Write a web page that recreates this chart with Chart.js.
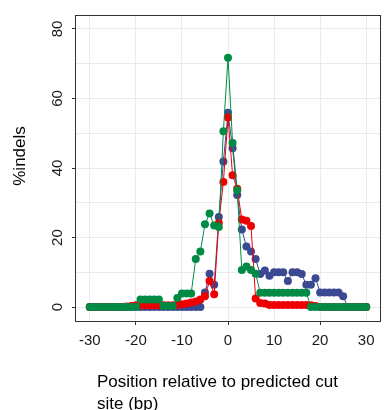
<!DOCTYPE html>
<html>
<head>
<meta charset="utf-8">
<script src="https://cdn.jsdelivr.net/npm/chart.js@4"></script>
<style>
  body { margin: 0; background: #fff; }
  canvas { display: block; }
</style>
</head>
<body>
<canvas id="indelChart" width="384" height="410"></canvas>
<script>
// positions relative to the cut site (bp)
const positions = [
    -30, -29, -28, -27, -26, -25, -24, -23, -22, -21,
    -20, -19, -18, -17, -16, -15, -14, -13, -12, -11,
    -10, -9, -8, -7, -6, -5, -4, -3, -2, -1,
    0, 1, 2, 3, 4, 5, 6, 7, 8, 9,
    10, 11, 12, 13, 14, 15, 16, 17, 18, 19,
    20, 21, 22, 23, 24, 25, 26, 27, 28, 29, 30
];

const greenIndels = [
    0, 0, 0, 0, 0, 0, 0, 0, 0, 0,
    0, 2.2, 2.2, 2.2, 2.2, 2.2, 0.3, 0.3, 0.3, 2.6,
    3.9, 3.9, 3.9, 13.8, 16.0, 23.8, 26.9, 23.5, 23.0, 50.6,
    71.7, 47.2, 33.6, 10.7, 11.7, 10.7, 9.6, 4.1, 4.1, 4.1,
    4.1, 4.1, 4.1, 4.1, 4.1, 4.1, 4.1, 4.1, 0, 0,
    0, 0, 0, 0, 0, 0, 0, 0, 0, 0, 0
];

const redIndels = [
    0, 0, 0, 0, 0, 0, 0, 0, 0.2, 0.3,
    0.5, 0.5, 0.5, 0.5, 0.5, 0.5, 0.5, 0.5, 0.5, 0.7,
    0.8, 1.0, 1.3, 1.6, 2.2, 3.1, 7.5, 3.7, 24.2, 36.0,
    54.5, 37.9, 34.0, 25.2, 24.8, 23.3, 2.5, 1.2, 1.0, 0.6,
    0.6, 0.6, 0.6, 0.6, 0.6, 0.6, 0.6, 0.6, 0.5, 0.3,
    0, 0, 0, 0, 0, 0, 0, 0, 0, 0, 0
];

const blueIndels = [
    0, 0, 0, 0, 0, 0, 0, 0, 0, 0,
    0, 0, 0, 0, 0, 0, 0, 0, 0, 0,
    0, 0, 0, 0, 0, 4.2, 9.6, 6.4, 25.9, 41.9,
    55.9, 45.7, 32.2, 22.3, 17.4, 16.0, 13.8, 9.5, 10.5, 9.0,
    10.0, 10.0, 10.0, 7.5, 10.0, 10.0, 9.5, 6.4, 6.4, 8.3,
    4.2, 4.2, 4.2, 4.2, 4.2, 3.1, 0, 0, 0, 0, 0
];

const xTicks = [-30, -20, -10, 0, 10, 20, 30];
const xTickMarks = [-20, 0, 20];
const yTicks = [0, 10, 20, 30, 40, 50, 60, 70, 80];
const yLabels = [0, 20, 40, 60, 80];

const xTitleLines = ['Position relative to predicted cut', 'site (bp)'];
const yTitle = '%indels';

const FONT = "'Liberation Sans', Arial, sans-serif";

function toPoints(ys) {
    return positions.map((x, i) => ({ x: x, y: ys[i] }));
}

function series(data, color) {
    return {
        data: toPoints(data),
        borderColor: color,
        backgroundColor: color,
        borderWidth: 1,
        pointRadius: 4,
        pointBorderWidth: 0,
        pointBackgroundColor: color,
        tension: 0,
        fill: false
    };
}

// panel border + axis titles
const panelPlugin = {
    id: 'panel',
    afterDraw(chart) {
        const ctx = chart.ctx;
        const a = chart.chartArea;
        ctx.save();
        ctx.strokeStyle = '#333333';
        ctx.lineWidth = 1;
        ctx.strokeRect(a.left - 0.5, a.top + 0.5, a.right - a.left + 1, a.bottom - a.top);

        ctx.fillStyle = '#000';
        ctx.font = '17px ' + FONT;
        ctx.textAlign = 'left';
        ctx.textBaseline = 'alphabetic';
        xTitleLines.forEach((line, i) => ctx.fillText(line, 97, 387 + i * 22));

        ctx.translate(20, 156);
        ctx.rotate(-Math.PI / 2);
        ctx.textAlign = 'center';
        ctx.textBaseline = 'middle';
        ctx.fillText(yTitle, 0, 0);
        ctx.restore();
    }
};

new Chart(document.getElementById('indelChart'), {
    type: 'line',
    data: {
        datasets: [
            series(greenIndels, '#008B45'),
            series(redIndels, '#EE0000'),
            series(blueIndels, '#3B4992')
        ]
    },
    options: {
        responsive: false,
        animation: false,
        layout: { padding: { top: 11, right: 0, bottom: 0, left: 0 } },
        plugins: {
            legend: { display: false },
            tooltip: { enabled: false }
        },
        scales: {
            x: {
                type: 'linear',
                min: -33,
                max: 33,
                afterBuildTicks: axis => { axis.ticks = xTicks.map(v => ({ value: v })); },
                afterFit: scale => { scale.height = 89; },
                border: { display: false },
                grid: {
                    color: '#ebebeb',
                    lineWidth: 1,
                    tickLength: 4,
                    tickColor: c => xTickMarks.includes(c.tick.value) ? '#333333' : 'rgba(0,0,0,0)'
                },
                ticks: {
                    color: '#1a1a1a',
                    font: { family: FONT, size: 15 },
                    padding: 7,
                    maxRotation: 0
                }
            },
            y: {
                type: 'linear',
                min: -4,
                max: 84,
                afterBuildTicks: axis => { axis.ticks = yTicks.map(v => ({ value: v })); },
                afterFit: scale => { scale.width = 76; },
                border: { display: false },
                grid: {
                    color: '#ebebeb',
                    lineWidth: 1,
                    tickLength: 4,
                    tickColor: c => yLabels.includes(c.tick.value) ? '#333333' : 'rgba(0,0,0,0)'
                },
                ticks: {
                    color: '#1a1a1a',
                    font: { family: FONT, size: 15 },
                    padding: 6,
                    minRotation: 90,
                    maxRotation: 90,
                    crossAlign: 'center',
                    callback: v => yLabels.includes(v) ? String(v) : ''
                }
            }
        }
    },
    plugins: [panelPlugin]
});
</script>
</body>
</html>
